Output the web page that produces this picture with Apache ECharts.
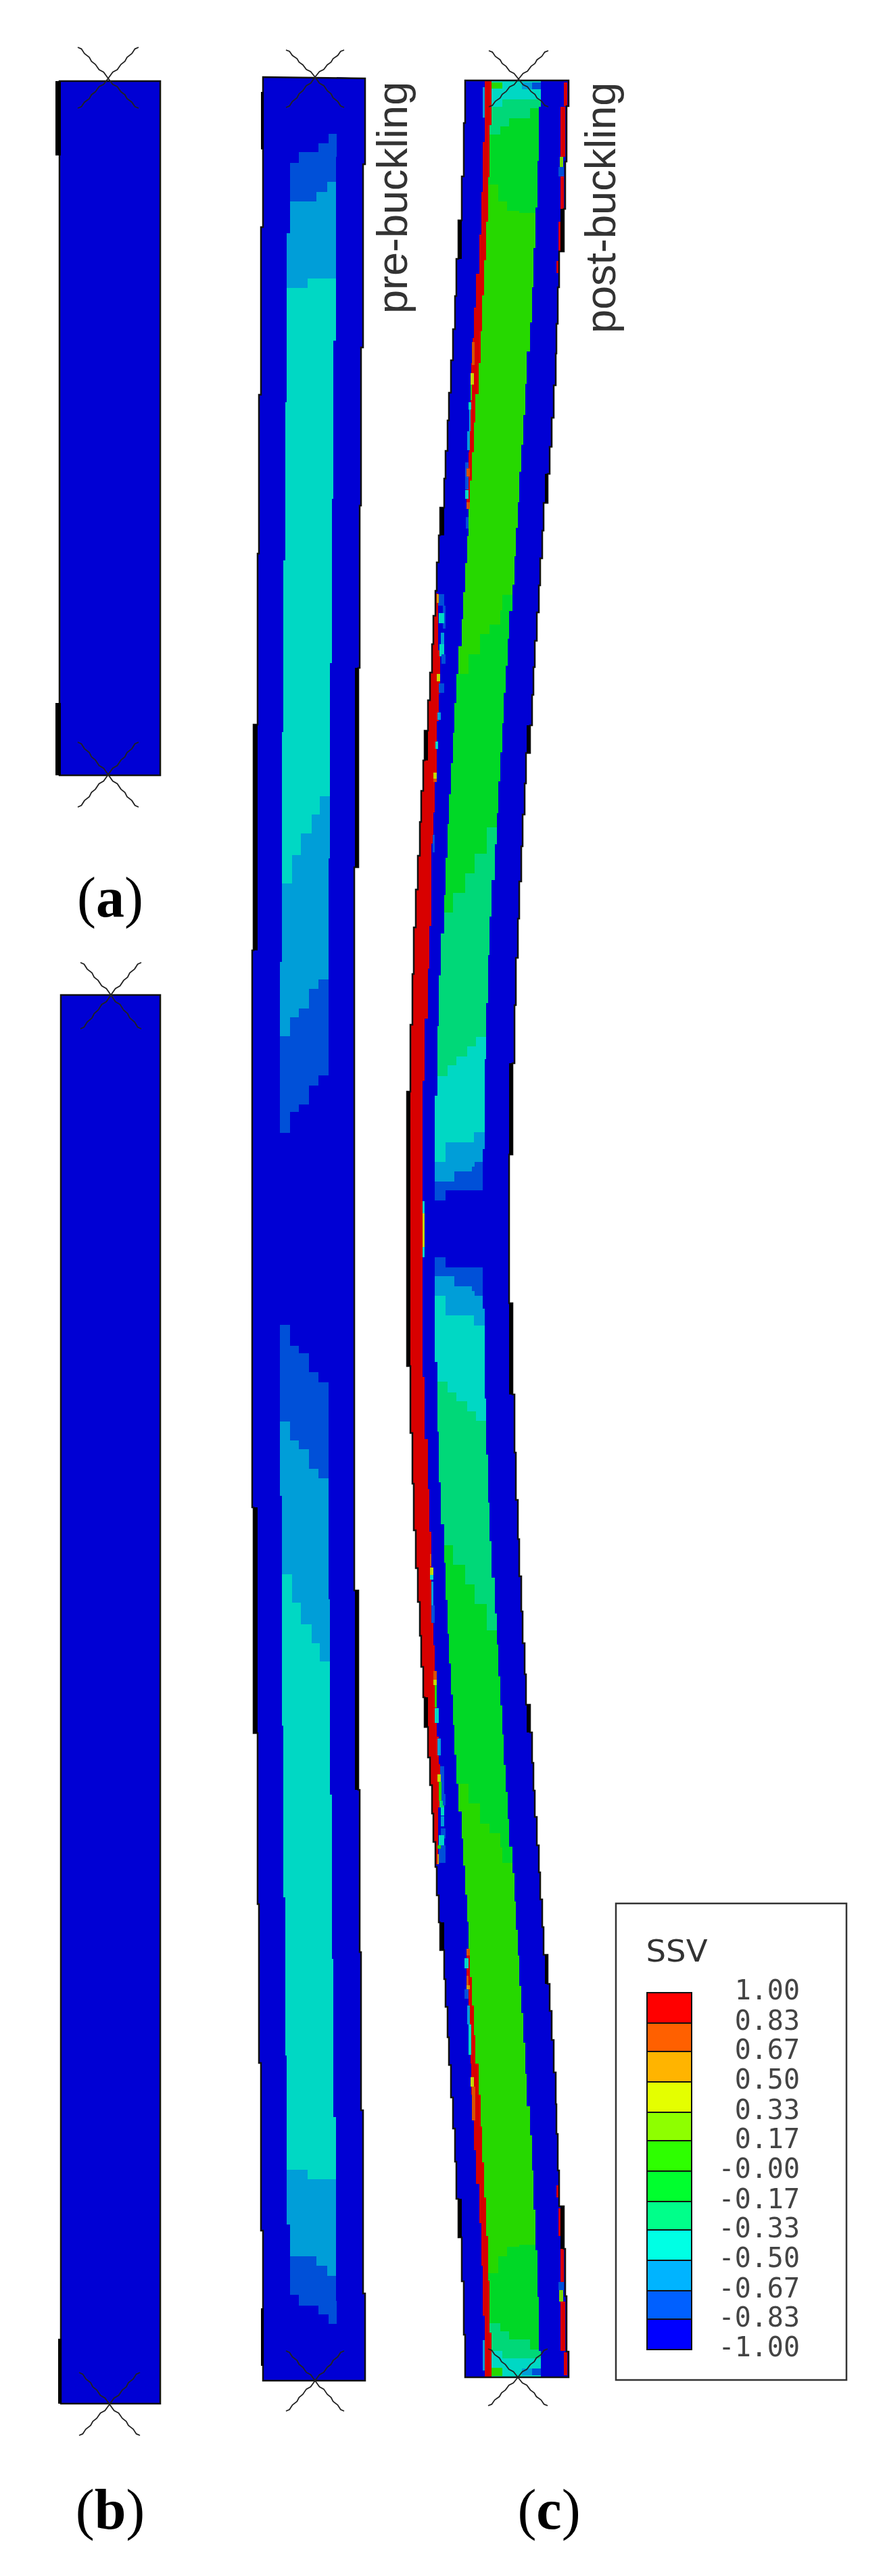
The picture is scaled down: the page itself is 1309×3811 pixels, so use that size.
<!DOCTYPE html>
<html><head><meta charset="utf-8">
<style>html,body{margin:0;padding:0;background:#fff}#c{width:1309px;height:3811px}</style>
<script src="https://cdn.jsdelivr.net/npm/echarts@6/dist/echarts.min.js"></script>
</head><body><div id="c"></div>
<script>
// ---- legend ----
const legendTicks  = [1,0.83,0.67,0.5,0.33,0.17,0,-0.17,-0.33,-0.5,-0.67,-0.83,-1];
const legendLabels = ['1.00','0.83','0.67','0.50','0.33','0.17','-0.00','-0.17','-0.33','-0.50','-0.67','-0.83','-1.00'];
const legendColors = ['#ff0000','#ff6000','#ffb400','#e4ff00','#8eff00','#2eff00','#00ff2e','#00ff8a','#00ffe4','#00b4ff','#0060ff','#0000ff'];
const contourColors= ['#d80000','#d85200','#d89c00','#c4d800','#78d800','#26d800','#00d826','#00d878','#00d8c4','#009ed8','#0050d8','#0000d4'];
const RED=0,ORG=1,AMB=2,YEL=3,LIM=4,GRN=5,GR2=6,MNT=7,TEA=8,SKY=9,BLU=10,NAV=11;

// ---- plain columns [x0,x1,y0,y1] ----
const plainColumns = [[88,237,120,1147],[90,237,1472,3556]];
const plainThick   = [[82,90,120,230],[82,90,1040,1147],[86,91,3460,3556]];

// ---- middle column (pre-buckling) : stepped edges [y,x], last entry only y ----
const midOuterL = [[114,389],[336,386],[584,383],[819,381],[1072,375],[1406,373],[2230,375],[2564,381],[2817,383],[3052,386],[3300,389],[3522]];
const midOuterR = [[116,540],[243,537],[514,534],[748,532],[988,530],[1283,524],[2353,530],[2648,532],[2888,534],[3122,537],[3393,540],[3522]];
const midInnerL = [[114,429],[345,424],[595,422],[829,419],[1083,417],[1423,414],[2213,417],[2553,419],[2807,422],[3041,424],[3291,429],[3522]];
const midInnerR = [[114,498],[232,497],[504,493],[738,491],[981,488],[1270,486],[2366,488],[2655,491],[2898,493],[3132,497],[3404,498],[3522]];
const midThick  = [[386,390,136,221],[375,381,1072,1406],[375,381,2230,2564],[386,390,3415,3500],[525,530,988,1283],[525,530,2353,2648]];
// contour stairs: [xStart,xEnd,y]
const midLayers = [
 [BLU,[[400,442,241],[442,471,225],[471,486,212],[486,510,198]],[[400,442,3395],[442,471,3411],[471,486,3424],[486,510,3438]]],
 [NAV,[[400,429,1676],[429,442,1645],[442,457,1634],[457,471,1606],[471,510,1591]],[[400,429,1960],[429,442,1991],[442,457,2002],[457,471,2030],[471,510,2045]]],
 [SKY,[[400,468,298],[468,484,284],[484,510,269]],[[400,429,1533],[429,442,1505],[442,457,1492],[457,471,1463],[471,510,1449]]],
 [SKY,[[400,429,2103],[429,442,2131],[442,457,2144],[457,471,2173],[471,510,2187]],[[400,468,3338],[468,484,3352],[484,510,3367]]],
 [TEA,[[400,455,426],[455,510,412]],[[400,432,1307],[432,445,1265],[445,461,1233],[461,473,1205],[473,510,1178]]],
 [TEA,[[400,432,2329],[432,445,2371],[445,461,2403],[461,473,2431],[473,510,2458]],[[400,455,3210],[455,510,3224]]]
];

// ---- right column (post-buckling) ----
const postOuterL = [[119,688],[182,686],[261,683],[326,678],[383,675],[438,673],[487,670],[533,667],[581,664],[622,662],[667,659],[708,657],[751,651],[792,649],[832,646],[874,644],[911,641],[953,639],[995,636],[1036,633],[1081,628],[1125,626],[1170,623],[1216,621],[1266,618],[1316,615],[1372,612],[1441,610],[1516,607],[1615,602],[2021,607],[2120,610],[2195,612],[2264,615],[2320,618],[2370,621],[2420,623],[2466,626],[2511,628],[2555,633],[2600,636],[2641,639],[2683,641],[2725,644],[2762,646],[2804,649],[2844,651],[2885,657],[2928,659],[2969,662],[3014,664],[3055,667],[3103,670],[3149,673],[3198,675],[3253,678],[3310,683],[3375,686],[3454,688],[3517]];
const postOuterR = [[119,841],[157,838],[239,836],[309,834],[372,827],[425,825],[479,823],[523,822],[570,819],[618,816],[661,813],[701,810],[744,804],[785,802],[826,799],[866,797],[906,794],[948,791],[987,789],[1028,787],[1073,784],[1114,778],[1159,776],[1205,773],[1252,771],[1304,768],[1359,766],[1417,763],[1487,761],[1573,758],[1708,753],[1928,758],[2063,761],[2149,763],[2219,766],[2277,768],[2332,771],[2384,773],[2431,776],[2477,778],[2522,784],[2563,787],[2608,789],[2649,791],[2688,794],[2730,797],[2770,799],[2810,802],[2851,804],[2892,810],[2935,813],[2975,816],[3018,819],[3066,822],[3113,823],[3157,825],[3211,827],[3264,834],[3327,836],[3397,838],[3479,841],[3517]];
const postBandL  = [[119,727],[185,724],[262,722],[328,719],[385,716],[437,713],[490,711],[537,708],[583,703],[625,701],[669,698],[711,695],[753,693],[793,691],[833,688],[876,685],[916,683],[956,678],[997,675],[1040,672],[1084,670],[1129,667],[1175,664],[1219,662],[1269,659],[1324,657],[1381,652],[1443,649],[1518,647],[1621,643],[2015,647],[2118,649],[2193,652],[2255,657],[2312,659],[2367,662],[2417,664],[2461,667],[2507,670],[2552,672],[2596,675],[2639,678],[2680,683],[2720,685],[2760,688],[2803,691],[2843,693],[2883,695],[2925,698],[2967,701],[3011,703],[3053,708],[3099,711],[3146,713],[3199,716],[3251,719],[3308,722],[3374,724],[3451,727],[3517]];
const postBandR  = [[119,800],[158,797],[238,795],[307,792],[367,789],[425,787],[477,784],[520,779],[568,777],[614,774],[658,771],[698,768],[743,766],[781,763],[823,761],[865,758],[904,753],[945,751],[985,748],[1025,745],[1070,743],[1113,740],[1156,737],[1203,735],[1249,732],[1302,727],[1356,724],[1413,722],[1484,719],[1567,717],[1700,714],[1936,717],[2069,719],[2152,722],[2223,724],[2280,727],[2334,732],[2387,735],[2433,737],[2480,740],[2523,743],[2566,745],[2611,748],[2651,751],[2691,753],[2732,758],[2771,761],[2813,763],[2855,766],[2893,768],[2938,771],[2978,774],[3022,777],[3068,779],[3116,784],[3159,787],[3211,789],[3269,792],[3329,795],[3398,797],[3478,800],[3517]];
const postClipL = [[119,560],[3517]];
const postClipR = [[119,860],[3517]];
const postLayers = [
 [GRN,[[620,830,119]],[[620,830,3517]]],
 [GR2,[[620,693,997],[693,710,968],[710,724,938],[724,740,924],[740,743,903],[743,830,880]],[[620,693,2639],[693,710,2668],[710,724,2698],[724,740,2712],[740,743,2733],[743,830,2756]]],
 [MNT,[[620,670,1350],[670,688,1321],[688,702,1292],[702,720,1263],[720,830,1224]],[[620,670,2286],[670,688,2315],[688,702,2344],[702,720,2373],[720,830,2412]]],
 [TEA,[[620,662,1592],[662,675,1576],[675,691,1563],[691,704,1548],[704,830,1534]],[[620,662,2044],[662,675,2060],[675,691,2073],[691,704,2088],[704,830,2102]]],
 [SKY,[[620,659,1719],[659,701,1690],[701,830,1675]],[[620,659,1917],[659,701,1946],[701,830,1961]]],
 [BLU,[[620,672,1748],[672,698,1733],[698,702,1726],[702,830,1719]],[[620,672,1888],[672,698,1903],[698,702,1910],[702,830,1917]]],
 [NAV,[[620,659,1776],[659,830,1761]],[[620,659,1860],[659,830,1875]]],
 [GR2,[[620,830,119]],[[620,737,273],[737,750,298],[750,768,312],[768,830,315]]],
 [MNT,[[620,830,119]],[[620,740,199],[740,753,187],[753,784,175],[784,830,160]]],
 [TEA,[[620,830,119]],[[620,743,158],[743,830,147]]],
 [GR2,[[620,737,3363],[737,750,3338],[750,768,3324],[768,830,3321]],[[620,830,3517]]],
 [MNT,[[620,740,3437],[740,753,3449],[753,784,3461],[784,830,3476]],[[620,830,3517]]],
 [TEA,[[620,743,3478],[743,830,3489]],[[620,830,3517]]]
];
// red strips: left/right stepped edges
const redStrips = [
 [[[119,717],[210,714],[284,712],[347,709],[405,704],[455,701],[500,699],[537,697],[583,696],[625,694],[669,693],[711,690],[753]],
  [[119,727],[185,724],[262,722],[328,719],[385,716],[437,713],[490,711],[537,708],[583,703],[625,701],[669,698],[711,695],[753]]],
 [[[2883,690],[2925,693],[2967,694],[3011,696],[3053,697],[3099,699],[3136,701],[3181,704],[3231,709],[3289,712],[3352,714],[3426,717],[3517]],
  [[2883,695],[2925,698],[2967,701],[3011,703],[3053,708],[3099,711],[3146,713],[3199,716],[3251,719],[3308,722],[3374,724],[3451,727],[3517]]],
 [[[878,644],[911,641],[953,639],[995,636],[1036,633],[1081,628],[1125,626],[1170,623],[1216,621],[1266,618],[1316,615],[1372,612],[1441,610],[1516,607],[1615,602],[2021,607],[2120,610],[2195,612],[2264,615],[2320,618],[2370,621],[2420,623],[2466,626],[2511,628],[2555,633],[2600,636],[2641,639],[2683,641],[2725,644],[2758]],
  [[878,648],[962,651],[1026,649],[1067,646],[1156,643],[1202,641],[1248,638],[1370,635],[1433,633],[1507,628],[1599,625],[2037,628],[2129,633],[2203,635],[2266,638],[2388,641],[2434,643],[2480,646],[2569,649],[2610,651],[2674,648],[2758]]]
];
// small high-gradient patches [x0,x1,y0,y1,band]
const postPatches = [
 [714,717,129,174,SKY],[714,717,3462,3507,SKY],
 [727,743,122,131,GRN],[772,787,122,132,SKY],[787,800,122,132,BLU],
 [727,743,3503,3515,GRN],[772,787,3504,3514,SKY],[787,800,3504,3514,BLU],
 [834,839,122,157,RED],[829,836,158,232,RED],[828,833,232,247,LIM],[826,834,247,261,BLU],[829,834,261,310,RED],[826,829,328,371,RED],[823,826,386,404,RED],
 [834,839,3480,3514,RED],[829,836,3405,3478,RED],[827,833,3388,3405,LIM],[826,834,3376,3388,BLU],[829,834,3327,3376,RED],[826,829,3267,3308,RED],[823,826,3233,3251,RED],
 [698,702,506,540,ORG],[696,701,552,569,YEL],[696,698,569,592,GRN],[693,697,595,606,TEA],[694,696,606,638,SKY],[691,695,638,666,SKY],[688,693,684,724,BLU],[690,695,693,705,ORG],[688,693,725,738,TEA],[690,695,743,753,ORG],[689,693,765,782,BLU],
 [690,695,2883,2893,ORG],[687,693,2897,2912,TEA],[690,693,2923,2938,ORG],[690,695,2937,2943,AMB],[687,693,2943,2957,BLU],[691,695,2967,2995,SKY],[693,697,2995,3040,TEA],[696,701,3073,3087,YEL],[698,703,3087,3137,ORG],
 [648,657,879,896,BLU],[646,649,879,892,AMB],[655,659,896,930,BLU],[649,657,907,922,TEA],[652,657,936,953,SKY],[650,657,953,971,TEA],[653,659,968,982,BLU],[646,651,997,1008,YEL],[649,657,1011,1025,BLU],[647,652,1054,1065,SKY],[644,648,1097,1108,TEA],[641,646,1143,1152,YEL],[641,646,1152,1157,ORG],[640,643,1235,1261,BLU],
 [625,628,1777,1860,TEA],[625,628,1795,1845,YEL],
 [636,638,2299,2317,ORG],[636,641,2319,2330,YEL],[636,641,2330,2337,TEA],[638,641,2340,2375,SKY],[638,643,2375,2401,BLU],
 [641,646,2472,2485,ORG],[641,646,2485,2493,YEL],[643,646,2493,2526,GRN],[643,649,2527,2549,TEA],[647,652,2572,2597,SKY],[651,657,2613,2664,BLU],[647,652,2625,2636,YEL],[649,653,2636,2664,GRN],[650,657,2664,2674,MNT],[655,659,2654,2671,BLU],[652,657,2674,2686,TEA],[652,657,2687,2702,SKY],[652,659,2705,2720,BLU],[649,657,2715,2730,TEA],[649,659,2730,2756,BLU],[647,652,2730,2735,GRN],[647,649,2743,2758,AMB]
];
const postThick = [[678,683,326,383],[651,657,751,792],[628,633,1081,1125],[602,607,1615,2021],[628,633,2511,2555],[651,657,2844,2885],[678,683,3253,3310],
 [829,834,309,372],[806,810,701,744],[779,784,1073,1114],[753,758,1573,1708],[753,758,1928,2063],[779,784,2522,2563],[806,810,2892,2935],[829,834,3264,3327]];

// ---- pin crosses: [cx,cy,halfWidth,up,down] ----
const crosses = [[160,116,45,46,44],[160,1146,45,48,48],[164,1472,45,48,50],[162,3557,45,47,46],[466,114,43,40,45],[466,3522,43,44,45],[767,117,44,42,41],[766,3517,44,42,42]];
const armProfile = [[0,0],[.15,.2],[.3,.28],[.42,.45],[.55,.55],[.62,.68],[.78,.8],[.88,.95],[1,1]];

// ---- helpers: turn read values into polygon vertices ----
const edge = l => { const o=[]; for(let i=0;i<l.length-1;i++){o.push([l[i][1],l[i][0]],[l[i][1],l[i+1][0]]);} return o; };
const band = (a,b) => edge(a).concat(edge(b).reverse());
const stair = s => { const o=[]; s.forEach(d=>o.push([d[0],d[2]],[d[1],d[2]])); return o; };
const stairPoly = (t,b) => stair(t).concat(stair(b).reverse());
const box = d => [[d[0],d[2]],[d[1],d[2]],[d[1],d[3]],[d[0],d[3]]];

const shapes = [];
const add = (pts,fill,stroke,lw) => shapes.push({pts,fill,stroke,lw});
const NAVY = contourColors[NAV], EDGE='#111';
plainColumns.forEach(c=>add(box(c),NAVY,EDGE,2.5));
plainThick.forEach(c=>add(box(c),'#000'));
// middle
add(band(midOuterL,midOuterR),NAVY);
midLayers.forEach(l=>add(stairPoly(l[1],l[2]),contourColors[l[0]]));
add(band(midOuterL,midInnerL),NAVY);
add(band(midInnerR,midOuterR),NAVY);
add(band(midOuterL,midOuterR),'none',EDGE,2.5);
midThick.forEach(c=>add(box(c),'#000'));
// post
postLayers.forEach(l=>add(stairPoly(l[1],l[2]),contourColors[l[0]]));
add(band(postOuterL,postBandL),NAVY);
add(band(postBandR,postOuterR),NAVY);
add(band(postClipL,postOuterL),'#fff');
add(band(postOuterR,postClipR),'#fff');
redStrips.forEach(s=>add(band(s[0],s[1]),contourColors[RED]));
postPatches.forEach(p=>add(box(p),contourColors[p[4]]));
add(band(postOuterL,postOuterR),'none',EDGE,2.5);
postThick.forEach(c=>add(box(c),'#000'));
// legend frame
add(box([911,1252,2816,3521]),'none','#333',2.5);

const arms = [];
crosses.forEach(c=>{ [[-1,-c[3]],[1,-c[3]],[-1,c[4]],[1,c[4]]].forEach(a=>{
  arms.push(armProfile.map(p=>[c[0]+a[0]*c[2]*p[0], c[1]+a[1]*p[1]]));
});});

const texts = [
 {t:'pre-buckling', x:585, y:464, r:Math.PI/2, size:63, ff:'"Liberation Sans"', fill:'#333', a:'left'},
 {t:'post-buckling', x:893, y:493, r:Math.PI/2, size:63, ff:'"Liberation Sans"', fill:'#333', a:'left'},
 {t:'SSV', x:1001, y:2891, r:0, size:44, ff:'"DejaVu Sans"', fill:'#333', a:'center', sx:1.06},
 {t:'{p|(}{b|a}{p|)}', x:163, y:1334, r:0, a:'center'},
 {t:'{p|(}{b|b}{p|)}', x:163, y:3719, r:0, a:'center'},
 {t:'{p|(}{b|c}{p|)}', x:812, y:3719, r:0, a:'center'}
];
const capRich = {p:{fontFamily:'"Liberation Serif"',fontSize:84,fill:'#000'},b:{fontFamily:'"Liberation Serif"',fontWeight:'bold',fontSize:84,fill:'#000'}};

const chart = echarts.init(document.getElementById('c'),null,{renderer:'canvas'});
chart.setOption({
 animation:false, backgroundColor:'#fff',
 grid:[{left:0,right:0,top:0,bottom:0},{left:957,top:2948,width:66,height:528}],
 xAxis:[{type:'value',min:0,max:1309,show:false,gridIndex:0},{type:'value',min:0,max:1,show:false,gridIndex:1}],
 yAxis:[{type:'value',min:0,max:3811,inverse:true,show:false,gridIndex:0},
  {type:'value',min:-1,max:1,gridIndex:1,position:'right',splitLine:{show:false},
   axisLine:{show:true,lineStyle:{color:'#111',width:2}},
   axisTick:{show:true,length:22,customValues:legendTicks,lineStyle:{color:'#222',width:2}},
   axisLabel:{show:true,customValues:legendTicks,margin:160,align:'right',verticalAlign:'middle',
     color:'#444',fontFamily:'"DejaVu Sans Mono"',fontSize:40,
     formatter:v=>legendLabels[legendTicks.indexOf(v)]}}],
 series:[
  {type:'custom',coordinateSystem:'cartesian2d',xAxisIndex:0,yAxisIndex:0,silent:true,clip:false,
   data:shapes.map((s,i)=>[i]),
   renderItem:(p,api)=>{const s=shapes[p.dataIndex];return {type:'polygon',shape:{points:s.pts.map(q=>api.coord(q))},
     style:{fill:s.fill==='none'?null:s.fill,stroke:s.stroke||null,lineWidth:s.lw||0}};}},
  {type:'custom',coordinateSystem:'cartesian2d',xAxisIndex:0,yAxisIndex:0,silent:true,clip:false,
   data:arms.map((s,i)=>[i]),
   renderItem:(p,api)=>({type:'polyline',shape:{points:arms[p.dataIndex].map(q=>api.coord(q))},
     style:{fill:null,stroke:'#222',lineWidth:1.8}})},
  {type:'custom',coordinateSystem:'cartesian2d',xAxisIndex:1,yAxisIndex:1,silent:true,clip:false,
   data:legendColors.map((c,i)=>[legendTicks[i+1],legendTicks[i]]),
   renderItem:(p,api)=>{const a=api.coord([0,api.value(0)]),b=api.coord([1,api.value(1)]);
     return {type:'rect',shape:{x:a[0],y:b[1],width:b[0]-a[0],height:a[1]-b[1]},
       style:{fill:legendColors[p.dataIndex],stroke:'#111',lineWidth:2}};}},
  {type:'custom',coordinateSystem:'cartesian2d',xAxisIndex:0,yAxisIndex:0,silent:true,clip:false,
   data:texts.map((t,i)=>[i]),
   renderItem:(p,api)=>{const t=texts[p.dataIndex],c=api.coord([t.x,t.y]);
     return {type:'text',x:c[0],y:c[1],rotation:t.r,scaleX:t.sx||1,
       style:{text:t.t,fill:t.fill||'#000',fontSize:t.size||84,fontFamily:t.ff||'"Liberation Serif"',
        align:t.a,verticalAlign:'middle',rich:t.size?undefined:capRich}};}}
 ]
});
</script></body></html>
